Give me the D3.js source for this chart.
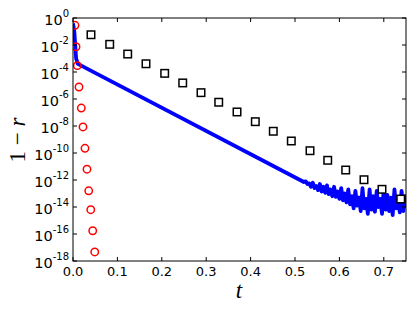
<!DOCTYPE html>
<html>
<head>
<meta charset="utf-8">
<script src="https://cdn.jsdelivr.net/npm/d3@7"></script>
<style>
  body { margin: 0; background: #fff; }
  svg { display: block; }
</style>
</head>
<body>
<div id="chart"></div>
<script>
// red circles: t, log10(1 - r)
const circleT = [0.0045, 0.0068, 0.0097, 0.0135, 0.0187, 0.0225, 0.027, 0.0315, 0.0354, 0.040, 0.0444, 0.049];
const circleLog = [-0.54, -2.13, -3.53, -5.11, -6.67, -8.07, -9.65, -11.2, -12.8, -14.2, -15.76, -17.33];

// black squares
const squareT = [0.0405, 0.0827, 0.1232, 0.1644, 0.2065, 0.2471, 0.2883, 0.3282, 0.3694,
                 0.4106, 0.4511, 0.4917, 0.5338, 0.5737, 0.6142, 0.6554, 0.6959, 0.7381];
const squareLog = [-1.24, -1.95, -2.67, -3.39, -4.10, -4.81, -5.53, -6.24, -6.96,
                   -7.68, -8.39, -9.11, -9.83, -10.54, -11.26, -11.98, -12.69, -13.41];

// blue line (smooth part, then round-off noise floor)
const lineT = [0.0, 0.003, 0.005, 0.007, 0.011, 0.52,
  0.524, 0.528, 0.532, 0.536, 0.540, 0.544, 0.548, 0.552, 0.556, 0.560,
  0.564, 0.568, 0.572, 0.576, 0.580, 0.584, 0.588, 0.592, 0.596, 0.600,
  0.604, 0.608, 0.612, 0.616, 0.620, 0.624, 0.628, 0.632, 0.636, 0.640,
  0.644, 0.648, 0.652, 0.656, 0.660, 0.664, 0.668, 0.672, 0.676, 0.680,
  0.684, 0.688, 0.692, 0.696, 0.700, 0.704, 0.708, 0.712, 0.716, 0.720,
  0.724, 0.728, 0.732, 0.736, 0.740, 0.744, 0.748, 0.752];
const lineLog = [-0.4, -1.0, -2.0, -3.0, -3.4, -12.15,
  -12.1, -12.3, -12.25, -12.5, -12.2, -12.6, -12.45, -12.75, -12.3, -12.85,
  -12.5, -12.95, -12.4, -13.05, -12.7, -13.2, -12.5, -13.25, -12.85, -13.4,
  -12.6, -13.5, -13.0, -13.65, -12.7, -13.8, -13.2, -14.1, -12.8, -13.9,
  -13.3, -14.3, -12.6, -14.1, -13.4, -14.5, -12.7, -14.2, -13.2, -14.35,
  -12.8, -14.0, -13.4, -14.5, -12.6, -14.2, -13.1, -14.3, -13.3, -14.6,
  -12.7, -14.1, -13.4, -14.4, -12.8, -14.3, -13.2, -14.0];

const xTicks = [0.0, 0.1, 0.2, 0.3, 0.4, 0.5, 0.6, 0.7];
const yTickExp = [0, -2, -4, -6, -8, -10, -12, -14, -16, -18];

const width = 415, height = 312;
const margin = {top: 18, right: 9, bottom: 51, left: 73};
const iw = width - margin.left - margin.right,
      ih = height - margin.top - margin.bottom;

const x = d3.scaleLinear().domain([0, 0.75]).range([0, iw]);
const y = d3.scaleLog().domain([1e-18, 1]).range([ih, 0]);

const svg = d3.select('#chart').append('svg')
  .attr('width', width)
  .attr('height', height);

svg.append('defs').append('clipPath').attr('id', 'clip')
  .append('rect').attr('width', iw).attr('height', ih);

const g = svg.append('g')
  .attr('transform', `translate(${margin.left},${margin.top})`);

const plot = g.append('g').attr('clip-path', 'url(#clip)');

const line = d3.line()
  .x(d => x(d[0]))
  .y(d => y(Math.pow(10, d[1])));

plot.append('path')
  .datum(lineT.map((t, i) => [t, lineLog[i]]))
  .attr('d', line)
  .attr('fill', 'none')
  .attr('stroke', '#0000ff')
  .attr('stroke-width', 3.8)
  .attr('stroke-linejoin', 'round');

plot.selectAll('.circ')
  .data(circleT.map((t, i) => [t, circleLog[i]]))
  .enter().append('circle')
    .attr('cx', d => x(d[0]))
    .attr('cy', d => y(Math.pow(10, d[1])))
    .attr('r', 3.7)
    .attr('fill', 'none')
    .attr('stroke', '#ff0000')
    .attr('stroke-width', 1.5);

const s = 7.5;
plot.selectAll('.sq')
  .data(squareT.map((t, i) => [t, squareLog[i]]))
  .enter().append('rect')
    .attr('x', d => x(d[0]) - s / 2)
    .attr('y', d => y(Math.pow(10, d[1])) - s / 2)
    .attr('width', s)
    .attr('height', s)
    .attr('fill', '#fff')
    .attr('stroke', '#000')
    .attr('stroke-width', 1.5);

// frame
g.append('rect')
  .attr('width', iw).attr('height', ih)
  .attr('fill', 'none').attr('stroke', '#000').attr('stroke-width', 1);

// ticks, inward on all sides
const tl = 4;
xTicks.forEach(v => {
  const px = x(v);
  g.append('line').attr('x1', px).attr('x2', px).attr('y1', ih).attr('y2', ih - tl).attr('stroke', '#000');
  g.append('line').attr('x1', px).attr('x2', px).attr('y1', 0).attr('y2', tl).attr('stroke', '#000');
  g.append('text')
    .attr('x', px).attr('y', ih + 15)
    .attr('text-anchor', 'middle')
    .attr('font-family', 'DejaVu Sans')
    .attr('font-size', 13)
    .text(d3.format('.1f')(v));
});

yTickExp.forEach(e => {
  const py = y(Math.pow(10, e));
  g.append('line').attr('x1', 0).attr('x2', tl).attr('y1', py).attr('y2', py).attr('stroke', '#000');
  g.append('line').attr('x1', iw).attr('x2', iw - tl).attr('y1', py).attr('y2', py).attr('stroke', '#000');
  const t = g.append('text')
    .attr('x', -4).attr('y', py + 7)
    .attr('text-anchor', 'end')
    .attr('font-family', 'DejaVu Sans');
  t.append('tspan').attr('font-size', 14.5).text('10');
  t.append('tspan').attr('font-size', 10).attr('dy', -8).text(String(e));
});

// axis labels
svg.append('text')
  .attr('x', 239).attr('y', 298)
  .attr('text-anchor', 'middle')
  .attr('font-family', 'Liberation Serif')
  .attr('font-style', 'italic')
  .attr('font-size', 23)
  .text('t');

svg.append('text')
  .attr('transform', 'translate(25,140) rotate(-90)')
  .attr('text-anchor', 'middle')
  .attr('font-family', 'Liberation Serif')
  .attr('font-size', 23)
  .call(t => {
    t.append('tspan').text('1 \u2212 ');
    t.append('tspan').attr('font-style', 'italic').text('r');
  });
</script>
</body>
</html>
